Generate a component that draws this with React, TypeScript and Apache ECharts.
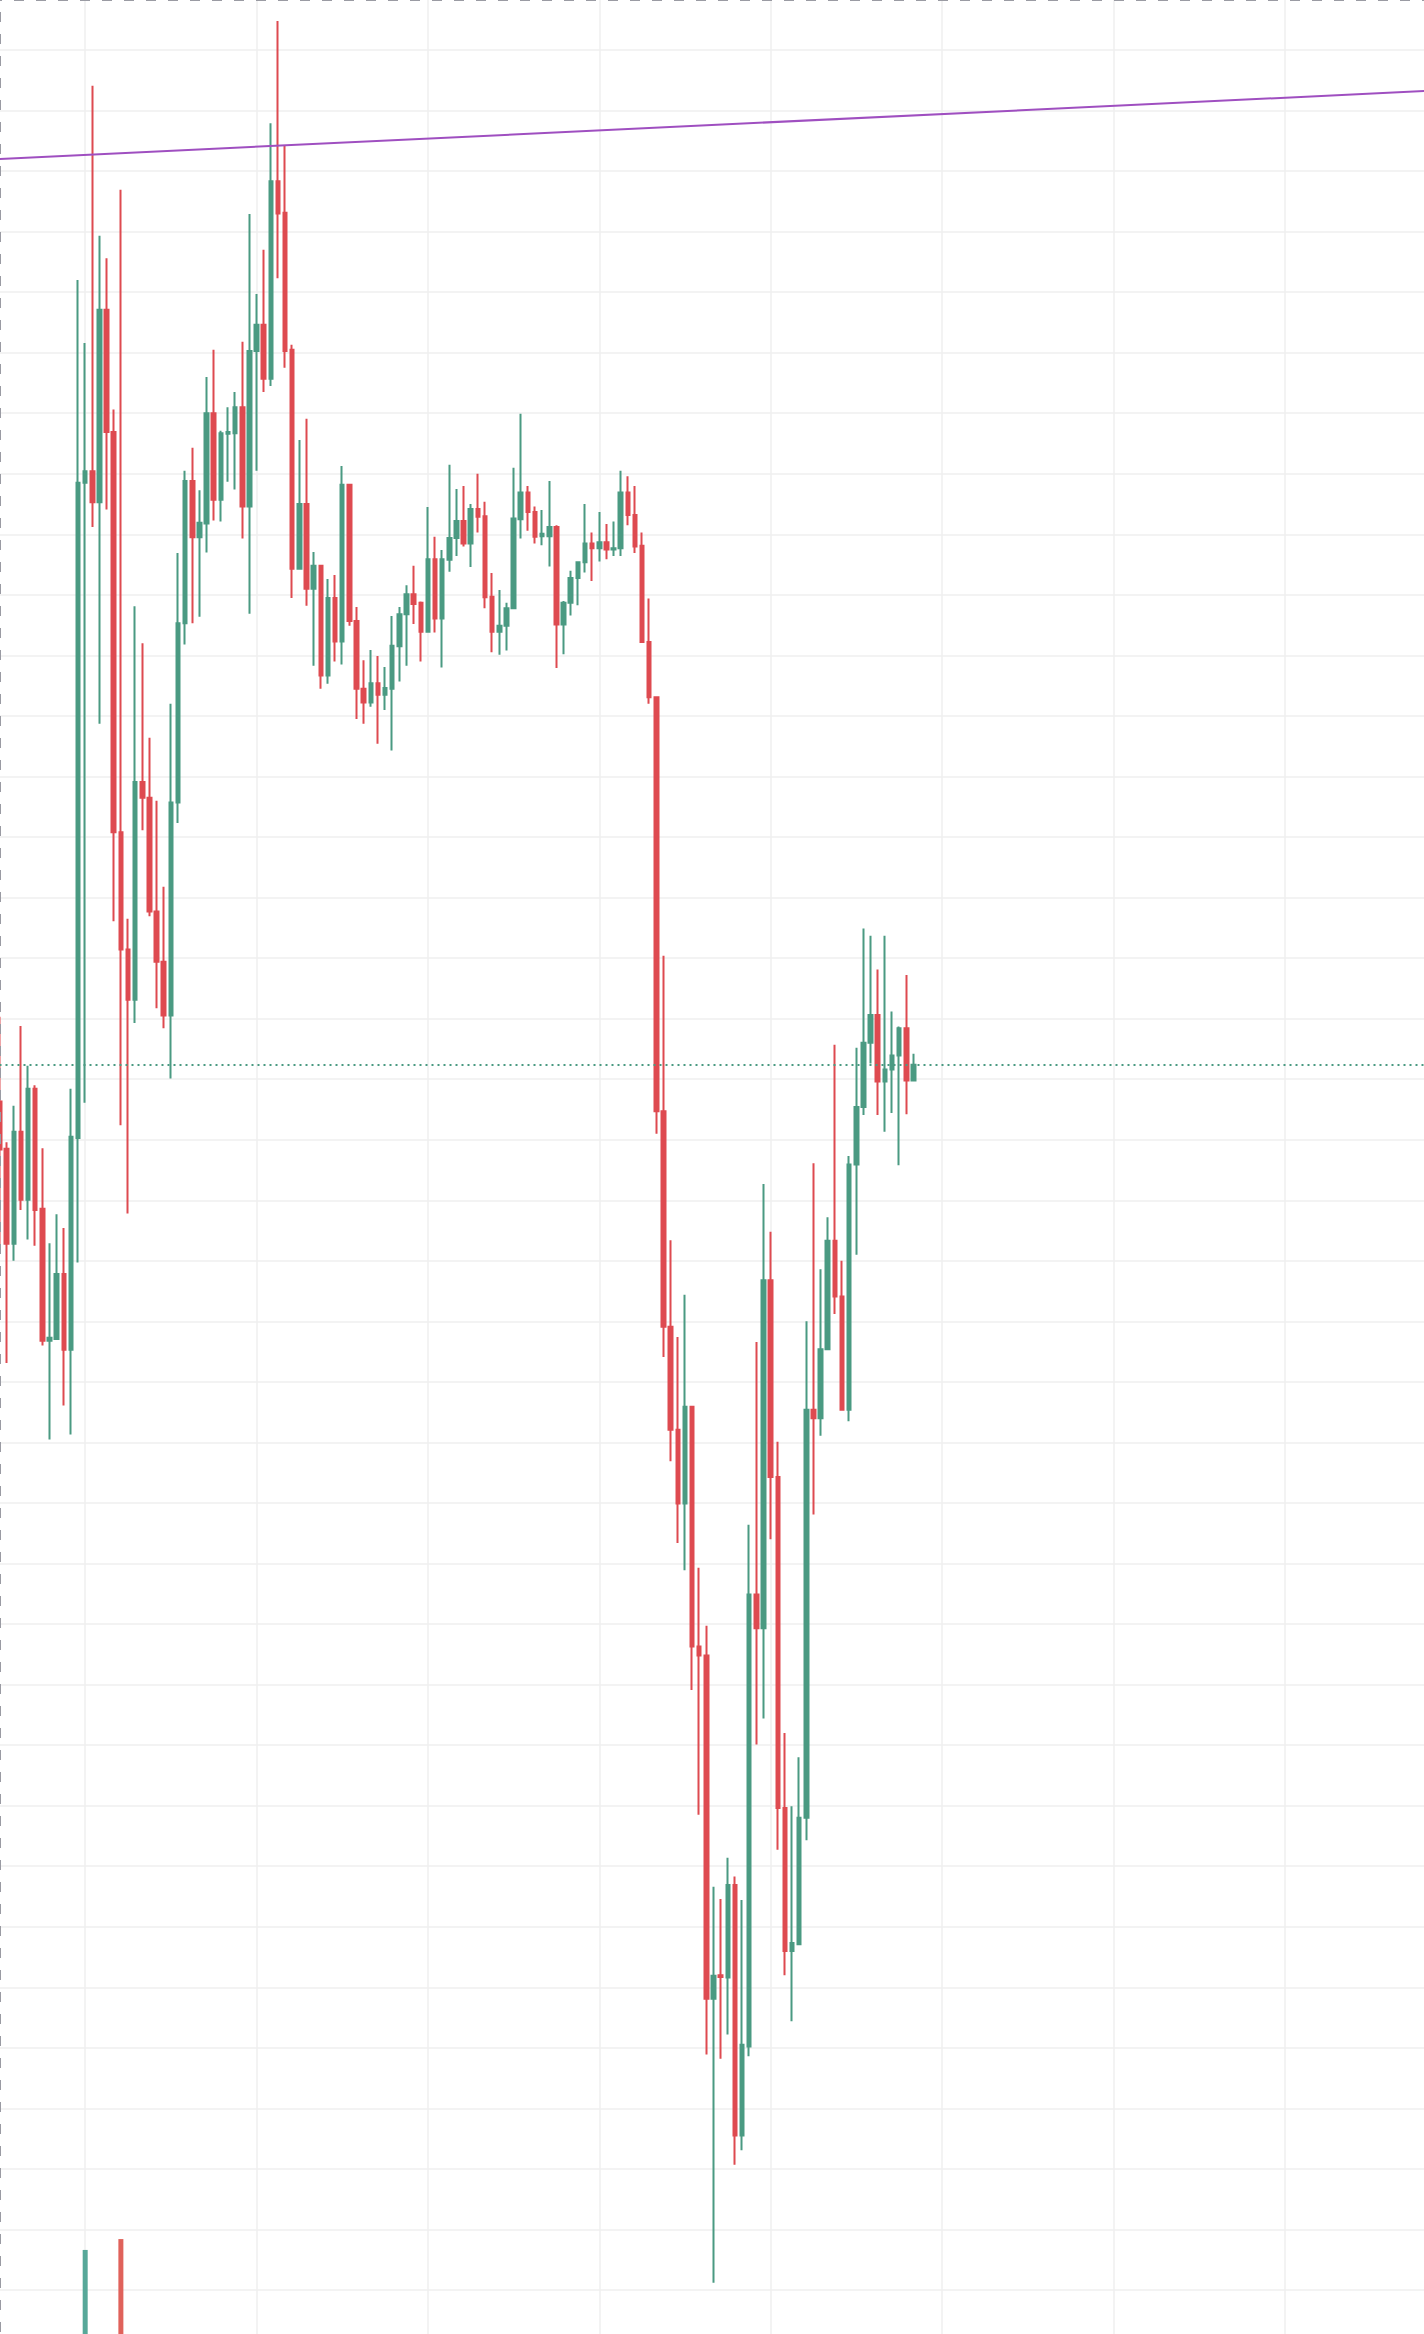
import React, { useEffect, useRef } from "react";
import * as echarts from "echarts";

// ---- candle data (hourly candles, index 0 = leftmost) ----
const opens = [
  82.63, 81.85, 80.28, 82.13, 81.01, 82.84, 80.86, 78.68, 78.71, 79.78,
  78.53, 82.03, 92.85, 93.04, 92.53, 95.71, 93.69, 87.08, 85.14, 84.31,
  87.91, 87.65, 85.77, 84.94, 84.05, 87.57, 90.53, 92.88, 91.95, 92.18,
  94.0, 92.57, 93.66, 93.67, 94.1, 92.46, 95.03, 95.46, 94.57, 97.83,
  97.31, 95.05, 91.43, 92.5, 91.1, 91.48, 89.67, 90.95, 90.23, 92.82,
  90.57, 89.45, 89.22, 89.54, 89.35, 89.45, 90.15, 90.68, 91.01, 90.87,
  90.39, 91.59, 90.61, 91.58, 91.94, 92.22, 91.85, 92.42, 92.3, 90.97,
  90.39, 90.49, 90.78, 92.25, 92.69, 92.37, 91.97, 91.97, 92.12, 90.51,
  90.87, 91.28, 91.54, 91.85, 91.77, 91.87, 91.75, 91.77, 92.69, 92.32,
  91.81, 90.22, 89.31, 82.47, 78.91, 77.21, 75.99, 77.59, 73.63, 73.48,
  67.81, 68.2, 68.16, 69.69, 65.55, 67.02, 74.49, 73.93, 79.68, 76.43,
  70.96, 68.6, 68.71, 70.8, 77.54, 77.4, 78.54, 80.33, 79.41, 77.54,
  81.59, 82.54, 83.6, 84.06, 82.96, 83.16, 83.39, 83.84, 82.98,
];

const closes = [
  81.84, 80.28, 82.13, 81.01, 82.84, 80.84, 78.68, 78.73, 79.78, 78.53,
  82.05, 92.85, 93.04, 92.53, 95.71, 93.69, 87.08, 85.14, 84.31, 87.91,
  87.65, 85.77, 84.94, 84.05, 87.57, 90.53, 92.88, 91.95, 92.19, 94.0,
  92.57, 93.67, 93.69, 94.1, 92.46, 95.03, 95.46, 94.57, 97.83, 97.3,
  95.03, 91.43, 92.5, 91.1, 91.48, 89.67, 90.95, 90.23, 92.82, 90.57,
  89.45, 89.22, 89.54, 89.35, 89.46, 90.16, 90.68, 91.01, 90.85, 90.39,
  91.59, 90.61, 91.59, 91.94, 92.22, 91.85, 92.42, 92.29, 90.96, 90.39,
  90.49, 90.78, 92.26, 92.69, 92.37, 91.96, 92.01, 92.12, 90.51, 90.87,
  91.28, 91.54, 91.85, 91.77, 91.87, 91.75, 91.77, 92.69, 92.32, 91.8,
  90.22, 89.31, 82.47, 78.91, 77.21, 75.99, 77.59, 73.63, 73.48, 67.81,
  68.19, 68.17, 69.69, 65.55, 67.05, 74.49, 73.93, 79.68, 76.43, 70.96,
  68.6, 68.73, 70.8, 77.54, 77.4, 78.54, 80.33, 79.41, 77.54, 81.59,
  82.54, 83.6, 84.06, 82.96, 83.16, 83.39, 83.84, 82.98, 83.24,
];

const highs = [
  84.03, 81.96, 82.56, 83.88, 83.22, 82.9, 81.86, 80.29, 80.77, 80.54,
  82.84, 96.2, 95.16, 99.41, 96.93, 96.56, 94.06, 97.69, 85.65, 90.81,
  90.2, 88.64, 87.6, 86.18, 89.2, 91.69, 93.05, 93.43, 92.73, 94.6,
  95.05, 93.71, 94.1, 94.35, 95.18, 97.29, 95.97, 96.7, 98.79, 100.48,
  98.43, 95.13, 93.56, 93.91, 91.71, 91.48, 91.26, 91.33, 93.13, 92.82,
  90.8, 89.92, 90.09, 89.99, 89.81, 90.65, 90.8, 91.16, 91.48, 90.89,
  92.45, 91.96, 91.74, 93.15, 92.75, 92.8, 92.5, 93.0, 92.54, 91.36,
  91.08, 90.87, 93.1, 93.99, 92.8, 92.46, 92.4, 92.88, 92.15, 90.9,
  91.4, 91.54, 92.5, 92.03, 92.37, 92.17, 92.21, 93.05, 92.96, 92.8,
  92.03, 90.94, 89.31, 85.04, 80.34, 78.74, 79.44, 77.59, 74.93, 73.97,
  69.66, 69.46, 70.14, 69.83, 69.44, 75.64, 78.66, 81.27, 80.48, 77.01,
  72.2, 70.99, 71.8, 79.0, 81.61, 79.86, 80.72, 83.57, 80.0, 81.73,
  83.52, 85.49, 85.37, 84.81, 85.37, 84.12, 83.87, 84.72, 83.42,
];

const lows = [
  80.26, 78.31, 80.0, 80.84, 80.35, 80.25, 78.6, 77.05, 78.71, 77.61,
  77.13, 79.97, 82.61, 92.12, 88.87, 92.41, 85.61, 82.24, 80.78, 83.93,
  87.11, 85.69, 84.17, 83.84, 83.01, 87.23, 90.18, 90.53, 90.64, 91.7,
  92.23, 92.21, 92.87, 92.74, 91.93, 90.69, 93.05, 94.35, 94.45, 96.23,
  94.75, 90.95, 91.43, 90.82, 89.83, 89.45, 89.53, 89.9, 89.85, 90.49,
  88.95, 88.87, 89.15, 88.54, 89.1, 88.43, 89.57, 89.83, 90.52, 89.9,
  90.38, 90.38, 89.8, 91.38, 91.64, 91.8, 91.46, 92.03, 90.78, 90.05,
  90.01, 90.08, 90.78, 91.93, 92.06, 91.85, 91.82, 91.47, 89.79, 90.02,
  90.66, 90.83, 91.37, 91.23, 91.55, 91.59, 91.64, 91.64, 92.15, 91.69,
  90.22, 89.2, 82.1, 78.41, 76.69, 75.34, 74.89, 72.91, 70.85, 66.89,
  63.12, 66.82, 67.22, 65.07, 65.31, 66.86, 72.01, 72.44, 75.4, 70.27,
  68.2, 67.44, 68.71, 70.43, 75.81, 77.11, 78.54, 79.12, 77.54, 77.35,
  80.1, 82.41, 83.26, 82.41, 82.13, 82.44, 81.58, 82.42, 82.98,
];

// Only two volume bars reach into the visible area
const volumeBars = [
  { candle: 12, value: 426 },
  { candle: 17, value: 472 },
];

// Purple trend line: [category index, price]
const trendPoints = [
  [0, 98.2],
  [201, 99.33],
];

const CATEGORY_COUNT = 202; // candles + empty space to the right

const UP = "#4a9a82";
const DOWN = "#de4a50";
const VOL_UP = "#57a899";
const VOL_DOWN = "#e0625b";

// The chart canvas is slightly larger than the page and shifted up/left,
// so that the price grid can start above the visible area.
const OFF_X = 1;
const OFF_Y = 11;
const PAGE_W = 1424;
const PAGE_H = 2334;

export default function App() {
  const ref = useRef<HTMLDivElement>(null);

  useEffect(() => {
    if (!ref.current) return;
    const chart = echarts.init(ref.current, undefined, { renderer: "svg" });

    const categories = Array.from({ length: CATEGORY_COUNT }, (_, i) => String(i));
    const candleData = opens.map((o, i) => [o, closes[i], lows[i], highs[i]]);
    const volumeData: any[] = opens.map(() => "-");
    volumeBars.forEach((v) => {
      const up = closes[v.candle] >= opens[v.candle];
      volumeData[v.candle] = { value: v.value, itemStyle: { color: up ? VOL_UP : VOL_DOWN } };
    });
    const lastClose = closes[closes.length - 1];

    const step = 7.14;
    const gridSpacing = 60.54;

    chart.setOption({
      animation: false,
      backgroundColor: "#ffffff",
      grid: {
        left: OFF_X - 0.5,
        top: OFF_Y + 50 - gridSpacing,
        width: step * (CATEGORY_COUNT - 1),
        height: gridSpacing * 39,
        show: false,
      },
      xAxis: {
        type: "category",
        data: categories,
        boundaryGap: false,
        axisLine: { show: false },
        axisTick: { show: false },
        axisLabel: { show: false },
        splitLine: {
          show: true,
          interval: (index: number) => index % 24 === 12,
          lineStyle: { color: "#efefef", width: 1.5 },
        },
      },
      yAxis: [
        {
          type: "value",
          min: 62,
          max: 101,
          interval: 1,
          axisLine: { show: false },
          axisTick: { show: false },
          axisLabel: { show: false },
          splitLine: { show: true, lineStyle: { color: "#efefef", width: 1.5 } },
        },
        {
          type: "value",
          min: 0,
          max: 10000,
          show: false,
          splitLine: { show: false },
        },
      ],
      series: [
        {
          type: "bar",
          xAxisIndex: 0,
          yAxisIndex: 1,
          data: volumeData,
          barWidth: 5,
          silent: true,
          z: 1,
        },
        {
          type: "line",
          data: trendPoints,
          symbol: "none",
          silent: true,
          lineStyle: { color: "#9f4fc0", width: 2 },
          z: 3,
        },
        {
          type: "candlestick",
          data: candleData,
          barWidth: 4,
          itemStyle: {
            color: UP,
            color0: DOWN,
            borderColor: UP,
            borderColor0: DOWN,
            borderWidth: 2,
          },
          markLine: {
            silent: true,
            symbol: ["none", "none"],
            label: { show: false },
            lineStyle: { color: UP, type: [2, 4], width: 2 },
            data: [{ yAxis: lastClose }],
          },
          z: 2,
        },
      ],
      graphic: [
        {
          type: "line",
          z: 100,
          shape: { x1: OFF_X, y1: OFF_Y + 0.5, x2: OFF_X + PAGE_W, y2: OFF_Y + 0.5 },
          style: { stroke: "#9a9ba3", lineWidth: 1, lineDash: [10, 12], lineDashOffset: 8 },
        },
        {
          type: "line",
          z: 100,
          shape: { x1: OFF_X + 0.5, y1: OFF_Y, x2: OFF_X + 0.5, y2: OFF_Y + PAGE_H },
          style: { stroke: "#9a9ba3", lineWidth: 1, lineDash: [10, 12], lineDashOffset: 10 },
        },
      ],
    });

    return () => chart.dispose();
  }, []);

  return (
    <>
      <style>{"html,body{margin:0;padding:0;overflow:hidden;background:#fff}"}</style>
      <div style={{ position: "relative", width: PAGE_W, height: PAGE_H, overflow: "hidden" }}>
        <div
          ref={ref}
          style={{ position: "absolute", left: -OFF_X, top: -OFF_Y, width: 1440, height: 2364 }}
        />
      </div>
    </>
  );
}
